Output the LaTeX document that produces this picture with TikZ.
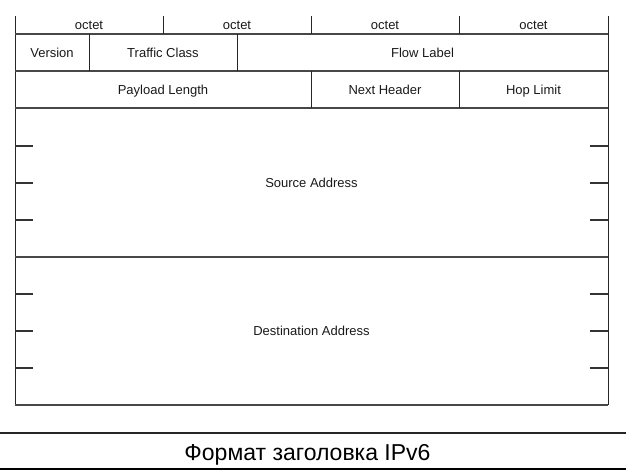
\documentclass[tikz,border=0pt]{standalone}
\usepackage{fontspec}
\setmainfont{Liberation Sans}
\begin{document}
\begin{tikzpicture}[x=1pt,y=-1pt,
  hline/.style={draw=black!72, line width=1.4pt},
  vline/.style={draw=black!85, line width=1pt},
  tick/.style={draw=black!80, line width=1.1pt},
  field/.style={font=\fontsize{13}{15}\selectfont, inner sep=0pt,
    text height=9.4pt, text depth=0pt, text=black!90},
  caption/.style={font=\fontsize{23}{26}\selectfont, inner sep=0pt,
    text height=16.5pt, text depth=0pt}]
\useasboundingbox (0,0) rectangle (626,470);

% outer frame: open at the top, closed at the bottom
\draw[vline] (15,16) -- (15,405);
\draw[vline] (608,16) -- (608,405);
\draw[hline] (15,405) -- (608,405);

% horizontal row separators
\foreach \y in {34,71,108,257}
  \draw[hline] (15,\y) -- (608,\y);

% octet header dividers
\foreach \x in {163,311,459}
  \draw[vline] (\x,16) -- (\x,34);
% Version | Traffic Class | Flow Label
\foreach \x in {89,237}
  \draw[vline] (\x,34) -- (\x,71);
% Payload Length | Next Header | Hop Limit
\foreach \x in {311,459}
  \draw[vline] (\x,71) -- (\x,108);

% 32-bit word marks inside the two address fields
\foreach \y in {146,183,220,294,331,368} {
  \draw[tick] (15,\y) -- (33,\y);
  \draw[tick] (590,\y) -- (608,\y);
}

% field labels
\node[field] (o1) at (89,25) {octet};
\node[field] (o2) at (237,25) {octet};
\node[field] (o3) at (385,25) {octet};
\node[field] (o4) at (533.5,25) {octet};
\node[field] (ver) at (52,52.5) {Version};
\node[field] (tc) at (163,52.5) {Traffic Class};
\node[field] (fl) at (422.5,52.5) {Flow Label};
\node[field] (pl) at (163,89.5) {Payload Length};
\node[field] (nh) at (385,89.5) {Next Header};
\node[field] (hl) at (533.5,89.5) {Hop Limit};
\node[field] (src) at (311.5,182.5) {Source Address};
\node[field] (dst) at (311.5,330.5) {Destination Address};

% caption band
\draw[draw=black!85, line width=1.1pt] (0,433) -- (626,433);
\draw[draw=black, line width=2pt] (0,468.5) -- (626,468.5);
\node[caption] (cap) at (307.5,452.5) {Формат заголовка IPv6};
\end{tikzpicture}
\end{document}
